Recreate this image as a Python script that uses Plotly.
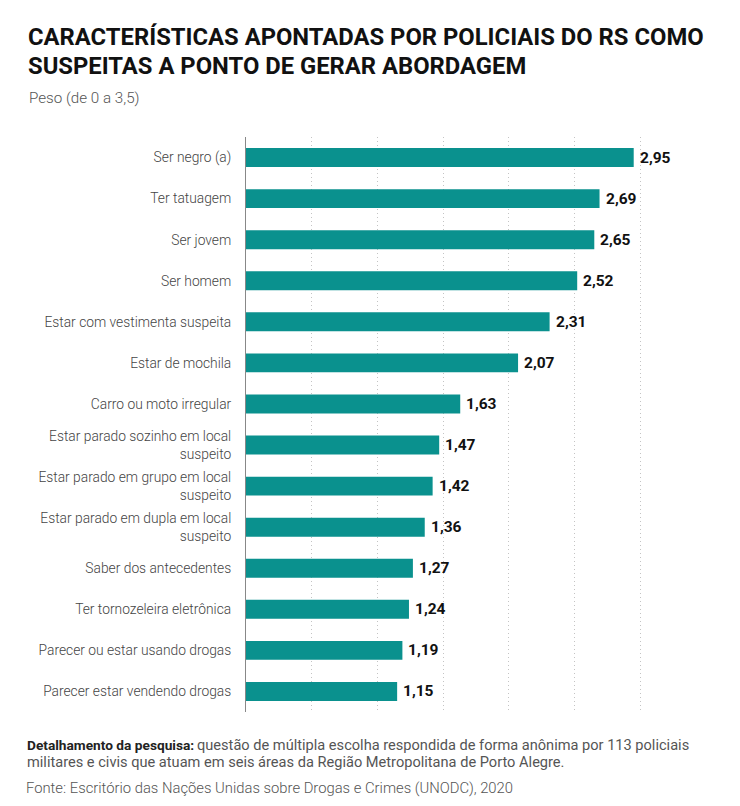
import plotly.graph_objects as go

categories = [
    "Ser negro (a)",
    "Ter tatuagem",
    "Ser jovem",
    "Ser homem",
    "Estar com vestimenta suspeita",
    "Estar de mochila",
    "Carro ou moto irregular",
    "Estar parado sozinho em local<br>suspeito",
    "Estar parado em grupo em local<br>suspeito",
    "Estar parado em dupla em local<br>suspeito",
    "Saber dos antecedentes",
    "Ter tornozeleira eletrônica",
    "Parecer ou estar usando drogas",
    "Parecer estar vendendo drogas",
]
values = [2.95, 2.69, 2.65, 2.52, 2.31, 2.07, 1.63, 1.47, 1.42, 1.36, 1.27, 1.24, 1.19, 1.15]

title_lines = ["CARACTERÍSTICAS APONTADAS POR POLICIAIS DO RS COMO",
               "SUSPEITAS A PONTO DE GERAR ABORDAGEM"]
subtitle = "Peso (de 0 a 3,5)"
note_label = "Detalhamento da pesquisa:"
note_lines = ["questão de múltipla escolha respondida de forma anônima por 113 policiais",
              "militares e civis que atuam em seis áreas da Região Metropolitana de Porto Alegre."]
source = "Fonte: Escritório das Nações Unidas sobre Drogas e Crimes (UNODC), 2020"

OFF = 8  # page body margin
W, H = 724, 790
ML = 246 - OFF
PR = 706 - OFF
MT = 137 - OFF
PB = 712 - OFF
MR = W - PR
MB = H - PB
PW = PR - ML
PH = PB - MT

def px(x):
    return (x - OFF - ML) / PW

def py(y):
    return 1 - (y - OFF - MT) / PH

fig = go.Figure(go.Bar(
    x=values, y=categories, orientation="h",
    marker=dict(color="#0a918e", line=dict(width=0)),
    width=0.46,
    hoverinfo="skip",
))

for c, v in zip(categories, values):
    fig.add_annotation(x=v, y=c, xref="x", yref="y", xanchor="left", yanchor="middle",
                       xshift=4, text=f"{v:.2f}".replace(".", ","), showarrow=False,
                       font=dict(family="Roboto", size=15.5, color="#111111", weight="bold"))

fig.update_layout(
    width=W, height=H,
    margin=dict(l=ML, r=MR, t=MT, b=MB),
    paper_bgcolor="white", plot_bgcolor="white",
    showlegend=False,
    font=dict(family="Roboto", color="#333333"),
    xaxis=dict(range=[0, 3.5], dtick=0.5, showticklabels=False, showgrid=True,
               gridcolor="#c4c4c4", griddash="1px,3px", gridwidth=1, zeroline=False,
               showline=False, fixedrange=True),
    yaxis=dict(showline=True, linecolor="#888888",
               linewidth=1, ticks="", ticklabelstandoff=11,
               tickfont=dict(family="Roboto", size=13.8, color="#444444", weight=300),
               showgrid=False, fixedrange=True, autorange=False, range=[13.5, -0.5]),
)

fig.add_shape(type="line", xref="paper", yref="paper", x0=px(22), x1=px(720),
              y0=py(4), y1=py(4), line=dict(color="#111111", width=3))

for line, yc in zip(title_lines, [37, 66]):
    fig.add_annotation(xref="paper", yref="paper", x=px(26), y=py(yc), xanchor="left", yanchor="middle",
                       text=line, showarrow=False, align="left",
                       font=dict(family="Roboto", size=23.8, color="#111111", weight="bold"))
fig.add_annotation(xref="paper", yref="paper", x=px(27), y=py(98), xanchor="left", yanchor="middle",
                   text=subtitle, showarrow=False, align="left",
                   font=dict(family="Roboto", size=15.2, color="#555555", weight=300))

fig.add_annotation(xref="paper", yref="paper", x=px(25), y=py(745), xanchor="left", yanchor="middle",
                   text=f"<b>{note_label}</b>", showarrow=False, align="left",
                   font=dict(family="Roboto", size=13.7, color="#222222"))
fig.add_annotation(xref="paper", yref="paper", x=px(195), y=py(745), xanchor="left", yanchor="middle",
                   text=note_lines[0], showarrow=False, align="left",
                   font=dict(family="Roboto", size=14.6, color="#555555"))
fig.add_annotation(xref="paper", yref="paper", x=px(25), y=py(762), xanchor="left", yanchor="middle",
                   text=note_lines[1], showarrow=False, align="left",
                   font=dict(family="Roboto", size=14.6, color="#555555"))
fig.add_annotation(xref="paper", yref="paper", x=px(25), y=py(798), xanchor="left", yanchor="bottom",
                   text=source, showarrow=False, align="left", borderpad=0,
                   font=dict(family="Roboto", size=14.8, color="#555555", weight=300))

fig.write_html("out.html")
